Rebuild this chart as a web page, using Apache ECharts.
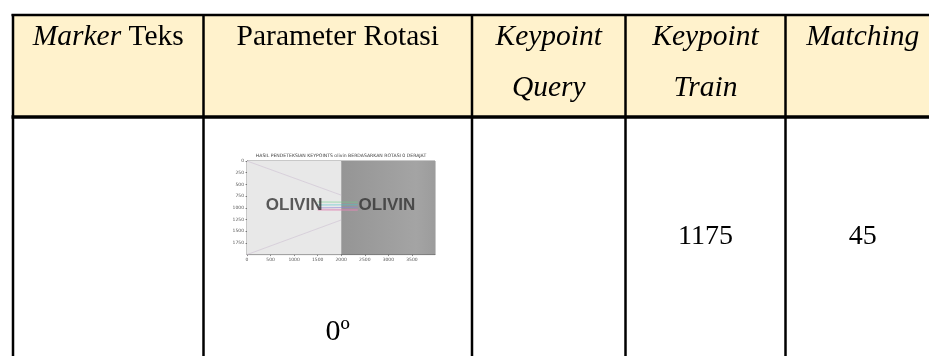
<!DOCTYPE html>
<html><head><meta charset="utf-8">
<script src="https://cdn.jsdelivr.net/npm/echarts@6/dist/echarts.min.js"></script>
<style>html,body{margin:0;padding:0;background:#fff}#c{width:929px;height:356px}</style>
</head><body><div id="c"></div>
<script>
// ---- table content ----
const headerRow1 = ['{i|Marker} Teks', 'Parameter Rotasi', '{i|Keypoint}', '{i|Keypoint}', '{i|Matching}'];
const headerRow2 = ['', '', '{i|Query}', '{i|Train}', ''];
const bodyRow = ['', '', '', '1175', '45'];
const rotationLabel = '0º';

// ---- thumbnail (keypoint matching plot) ----
const thumbTitle = 'HASIL PENDETEKSIAN KEYPOINTS olivin BERDASARKAN ROTASI 0 DERAJAT';
const imagePanels = [[0, 2000, 0, 2000], [2000, 3990, 0, 2000]];
const wordLabel = 'OLIVIN';
const wordPositions = [[1000, 945], [2970, 945]];
const guideLines = [[[0, 0], [2000, 730]], [[0, 2000], [2000, 1260]]];
const matchLines = [
  [[1500, 876], [2350, 880]],
  [[1500, 940], [2350, 935]],
  [[1500, 1000], [2350, 990]],
  [[1500, 1030], [2350, 1035]],
  [[1500, 1050], [2350, 1055]]
];
const matchColors = ['#6fcf8a', '#4cc4c9', '#8a86d6', '#d77fb0', '#e089b5'];

const colEdges = [13, 203.5, 472, 625.5, 785.5, 940];
const font = '"Liberation Serif", "Times New Roman", serif';
const HF = 29.5;

const graphic = [];
graphic.push({type: 'rect', z: -10, shape: {x: 13, y: 15, width: 930, height: 102}, style: {fill: '#fff2cc'}});
colEdges.slice(0, 5).forEach((x, i) => {
  const cx = (colEdges[i] + colEdges[i + 1]) / 2;
  graphic.push({type: 'text', x: cx, y: 37.5, style: {text: headerRow1[i], font: HF + 'px ' + font, fill: '#000', align: 'center', verticalAlign: 'middle', rich: {i: {fontStyle: 'italic', fontSize: HF, fontFamily: font}}}});
  if (headerRow2[i]) graphic.push({type: 'text', x: cx, y: 88, style: {text: headerRow2[i], font: HF + 'px ' + font, fill: '#000', align: 'center', verticalAlign: 'middle', rich: {i: {fontStyle: 'italic', fontSize: HF, fontFamily: font}}}});
  if (bodyRow[i]) graphic.push({type: 'text', x: cx, y: 237, style: {text: bodyRow[i], font: '28px ' + font, fill: '#000', align: 'center', verticalAlign: 'middle'}});
});
graphic.push({type: 'text', x: (colEdges[1] + colEdges[2]) / 2, y: 332, style: {text: rotationLabel, font: '30px ' + font, fill: '#000', align: 'center', verticalAlign: 'middle'}});
graphic.push({type: 'text', x: 341, y: 156, style: {text: thumbTitle, font: '4.6px "DejaVu Sans", sans-serif', fill: '#444', align: 'center', verticalAlign: 'middle'}});
// table rules
graphic.push({type: 'line', shape: {x1: 11.5, y1: 15, x2: 940, y2: 15}, style: {stroke: '#000', lineWidth: 2.5}});
graphic.push({type: 'line', shape: {x1: 11.5, y1: 117, x2: 940, y2: 117}, style: {stroke: '#000', lineWidth: 3.5}});
colEdges.slice(0, 5).forEach(x => {
  graphic.push({type: 'line', shape: {x1: x, y1: 14, x2: x, y2: 356}, style: {stroke: '#000', lineWidth: 2.5}});
});

const series = [
  {
    type: 'custom', z: 1, silent: true,
    data: imagePanels,
    renderItem(params, api) {
      const p0 = api.coord([api.value(0), api.value(2)]);
      const p1 = api.coord([api.value(1), api.value(3)]);
      const fill = params.dataIndex === 0 ? '#e8e8e8' : new echarts.graphic.LinearGradient(0, 0, 1, 0, [{offset: 0, color: '#959595'}, {offset: 0.8, color: '#a4a4a4'}, {offset: 1, color: '#9c9c9c'}]);
      return {type: 'rect', shape: {x: p0[0], y: p0[1], width: p1[0] - p0[0], height: p1[1] - p0[1]}, style: {fill}};
    }
  }
];
guideLines.forEach(l => series.push({type: 'line', z: 2, data: l, symbol: 'none', silent: true, lineStyle: {color: '#cdbfd2', width: 0.6}}));
matchLines.forEach((l, i) => series.push({type: 'line', z: 3, data: l, symbol: 'none', silent: true, lineStyle: {color: matchColors[i], width: 0.6}}));
series.push({
  type: 'scatter', z: 4, data: wordPositions, symbolSize: 0, silent: true,
  label: {show: true, position: 'inside', formatter: wordLabel, fontSize: 17, fontWeight: 'bold', fontFamily: '"Liberation Sans", Arial, sans-serif', color: '#333'}
});

const plain = v => String(v);
const chart = echarts.init(document.getElementById('c'), null, {renderer: 'canvas'});
chart.setOption({
  animation: false,
  backgroundColor: '#fff',
  graphic,
  grid: {left: 247, top: 161, width: 188, height: 93.6, show: true, borderColor: '#222', borderWidth: 0.5, backgroundColor: 'transparent'},
  xAxis: {type: 'value', min: 0, max: 3990, interval: 500, splitLine: {show: false},
    axisLine: {show: true, onZero: false, lineStyle: {color: '#222', width: 0.5}},
    axisTick: {show: true, length: 1.5, lineStyle: {color: '#222', width: 0.5}},
    axisLabel: {fontSize: 4.5, color: '#555', margin: 3, showMaxLabel: false, formatter: plain, fontFamily: 'DejaVu Sans'}},
  yAxis: {type: 'value', inverse: true, min: 0, max: 2000, interval: 250, splitLine: {show: false},
    axisLine: {show: true, onZero: false, lineStyle: {color: '#222', width: 0.5}},
    axisTick: {show: true, length: 1.5, lineStyle: {color: '#222', width: 0.5}},
    axisLabel: {fontSize: 4.5, color: '#555', margin: 3, showMaxLabel: false, formatter: plain, fontFamily: 'DejaVu Sans'}},
  series
});
</script></body></html>
